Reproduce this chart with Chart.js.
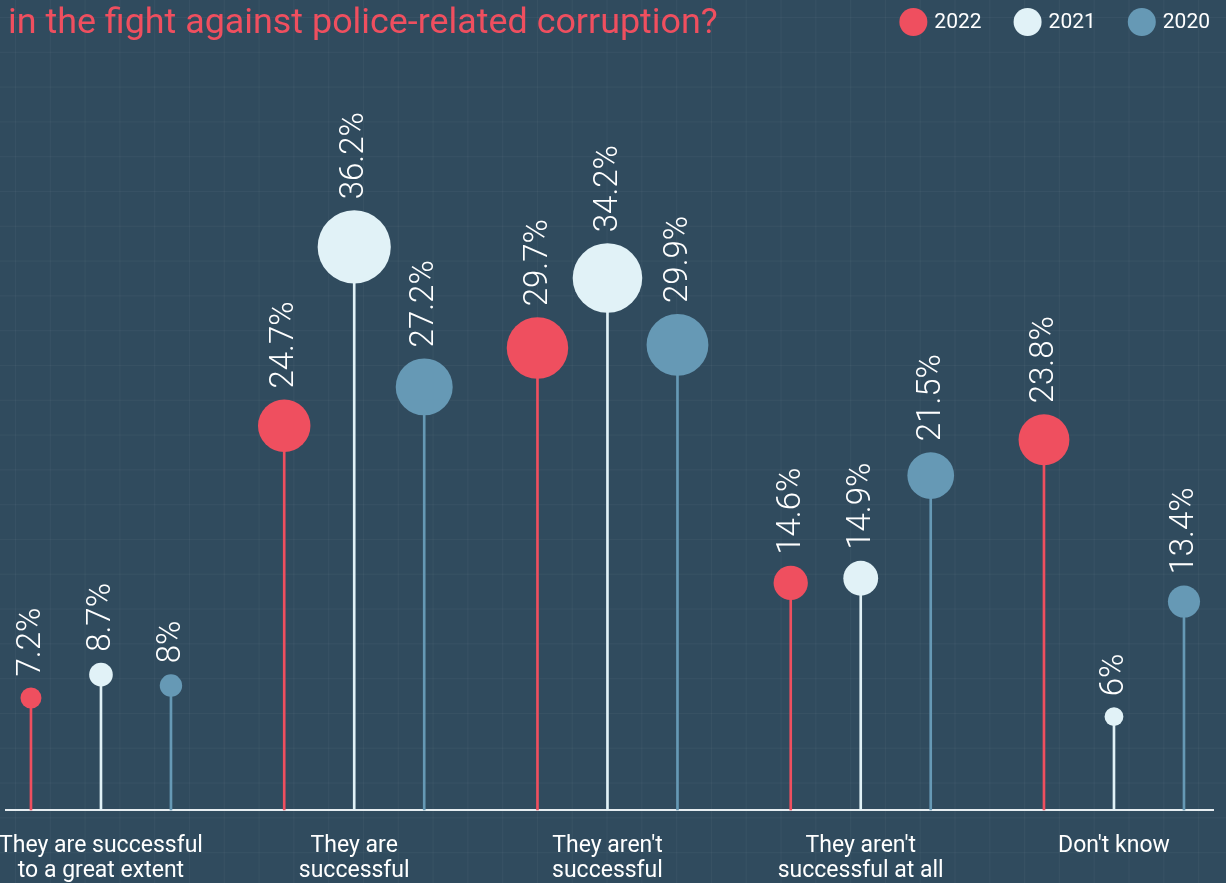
<!DOCTYPE html>
<html>
<head>
<meta charset="utf-8">
<script src="https://cdn.jsdelivr.net/npm/chart.js@4.4.1/dist/chart.umd.min.js"></script>
<style>
    html, body { margin: 0; padding: 0; }
    body {
        width: 1226px;
        height: 883px;
        overflow: hidden;
        background-color: #304b5e;
        background-image:
            linear-gradient(rgba(255,255,255,0.035) 1px, transparent 1px),
            linear-gradient(90deg, rgba(255,255,255,0.035) 1px, transparent 1px);
        background-size: 34.8px 34.8px;
        background-position: 15px 17px;
    }
    #wrap { position: relative; width: 1226px; height: 883px; }
    canvas { display: block; }
</style>
</head>
<body>
<div id="wrap"><canvas id="lollipopChart" width="1226" height="883"></canvas></div>
<script>
// data
const categories = [
    ["They are successful", "to a great extent"],
    ["They are", "successful"],
    ["They aren't", "successful"],
    ["They aren't", "successful at all"],
    ["Don't know"]
];
const years = ["2022", "2021", "2020"];
const values2022 = [7.2, 24.7, 29.7, 14.6, 23.8];
const values2021 = [8.7, 36.2, 34.2, 14.9, 6];
const values2020 = [8, 27.2, 29.9, 21.5, 13.4];
const titleText = "in the fight against police-related corruption?";

// styling
const seriesColors = ["#ef4f5f", "#e1f2f7", "#6699b5"];
const seriesShift = [-0.2764, 0, 0.2764];
const fontFamily = "Roboto, 'Open Sans', sans-serif";
const titleColor = "#ef4f5f";

const seriesValues = [values2022, values2021, values2020];

function dotRadius(ctx) {
    if (!ctx.raw) return 3;
    return 0.9 * ctx.raw.y + 4;
}

let datasets = [];
seriesValues.forEach((vals, s) => {
    let points = vals.map((v, i) => ({ x: i + seriesShift[s], y: v }));
    datasets.push({
        type: "scatter",
        label: years[s],
        data: points,
        order: 0,
        backgroundColor: seriesColors[s],
        borderWidth: 0,
        pointRadius: dotRadius,
        pointHoverRadius: dotRadius,
        clip: false
    });
    datasets.push({
        type: "bar",
        label: years[s] + " stem",
        data: points,
        order: 1,
        backgroundColor: seriesColors[s],
        barThickness: 2,
        grouped: false,
        clip: false
    });
});

// title top-left, legend top-right
const headerPlugin = {
    id: "header",
    afterDraw(chart) {
        const ctx = chart.ctx;
        ctx.save();
        // title, sized to its width in the picture
        let size = 34;
        ctx.font = `400 ${size}px ${fontFamily}`;
        let w = ctx.measureText(titleText).width;
        size = size * 710 / w;
        ctx.font = `400 ${size}px ${fontFamily}`;
        ctx.fillStyle = titleColor;
        ctx.textAlign = "left";
        ctx.textBaseline = "alphabetic";
        ctx.fillText(titleText, 8, 33);

        // legend
        ctx.font = `400 21px ${fontFamily}`;
        ctx.textBaseline = "middle";
        const r = 14, gapText = 7, gapItem = 32;
        let widths = years.map(y => ctx.measureText(y).width);
        let total = widths.reduce((a, b) => a + b + 2 * r + gapText, 0) + gapItem * (years.length - 1);
        let x = 1210 - total;
        years.forEach((y, i) => {
            ctx.fillStyle = seriesColors[i];
            ctx.beginPath();
            ctx.arc(x + r, 22, r, 0, Math.PI * 2);
            ctx.fill();
            ctx.fillStyle = "#ffffff";
            ctx.fillText(y, x + 2 * r + gapText, 23);
            x += 2 * r + gapText + widths[i] + gapItem;
        });
        ctx.restore();
    }
};

// rotated value labels above each dot
const valueLabelPlugin = {
    id: "valueLabels",
    afterDatasetsDraw(chart) {
        const ctx = chart.ctx;
        ctx.save();
        ctx.font = `300 33px ${fontFamily}`;
        ctx.fillStyle = "#ffffff";
        ctx.textAlign = "left";
        ctx.textBaseline = "middle";
        chart.data.datasets.forEach((ds, di) => {
            if (ds.type !== "scatter") return;
            const meta = chart.getDatasetMeta(di);
            meta.data.forEach((pt, i) => {
                const rad = pt.options.radius;
                ctx.save();
                ctx.translate(pt.x, pt.y - rad - 11);
                ctx.rotate(-Math.PI / 2);
                ctx.fillText(ds.data[i].y + "%", 0, 1);
                ctx.restore();
            });
        });
        ctx.restore();
    }
};

const ctx = document.getElementById("lollipopChart").getContext("2d");
const lollipopChart = new Chart(ctx, {
    type: "bar",
    data: { datasets: datasets },
    options: {
        responsive: false,
        animation: false,
        devicePixelRatio: 1,
        layout: {
            autoPadding: false,
            padding: { left: 6, right: 13, top: 110, bottom: 1 }
        },
        plugins: {
            legend: { display: false },
            tooltip: { enabled: false }
        },
        scales: {
            x: {
                type: "linear",
                min: -0.375,
                max: 4.391,
                offset: false,
                grid: { display: false, drawTicks: false },
                border: { display: true, color: "#e6edf1", width: 2 },
                afterBuildTicks: (axis) => {
                    axis.ticks = categories.map((c, i) => ({ value: i }));
                },
                // labels may run past the edge like in the picture
                afterFit: (axis) => {
                    axis.paddingLeft = 0;
                    axis.paddingRight = 0;
                    axis.height = 72;
                },
                ticks: {
                    autoSkip: false,
                    maxRotation: 0,
                    padding: 24,
                    color: "#ffffff",
                    font: { family: fontFamily, size: 23, lineHeight: "25px" },
                    callback: (value) => categories[value]
                }
            },
            y: {
                display: false,
                min: 0,
                max: 45
            }
        }
    },
    plugins: [headerPlugin, valueLabelPlugin]
});
</script>
</body>
</html>
